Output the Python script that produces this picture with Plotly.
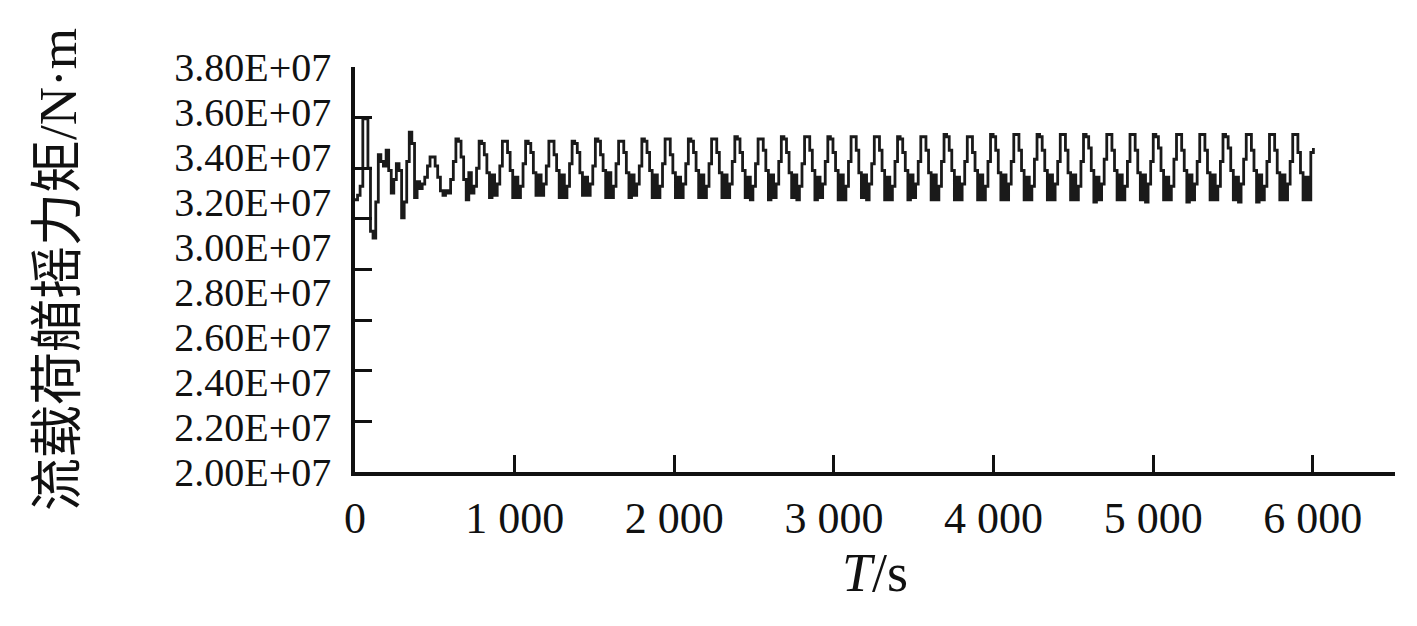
import plotly.graph_objects as go

# ---------------- data (torque in units of 1E+07 N·m) ----------------
TRANS_T = [0, 16, 32, 49, 65, 81, 97, 113, 130, 146, 162, 178, 195, 211, 227, 243,
           259, 276, 292, 308, 324, 340, 356, 373, 389, 405, 421, 437, 454, 470,
           486, 502, 518, 535, 551, 567, 583, 599, 616]
TRANS_V = [3.21, 3.23, 3.27, 3.57, 3.57, 3.35, 3.07, 3.04, 3.20, 3.41, 3.38, 3.36,
           3.43, 3.34, 3.24, 3.30, 3.37, 3.34, 3.13, 3.20, 3.38, 3.51, 3.46, 3.22,
           3.29, 3.26, 3.28, 3.31, 3.36, 3.40, 3.40, 3.36, 3.31, 3.25, 3.23, 3.25,
           3.24, 3.30, 3.38]

CYCLE_START = 632.0   # s, first regular peak
CYCLE_DT = 16.18      # s, sample step inside the periodic part
CYCLES = [
    [3.48, 3.47, 3.40, 3.30, 3.21, 3.33, 3.24, 3.27, 3.35],
    [3.47, 3.46, 3.41, 3.33, 3.22, 3.32, 3.23, 3.28, 3.36],
    [3.47, 3.47, 3.42, 3.34, 3.22, 3.31, 3.22, 3.27, 3.37],
    [3.47, 3.46, 3.42, 3.33, 3.23, 3.32, 3.23, 3.28, 3.36],
    [3.47, 3.47, 3.41, 3.34, 3.22, 3.32, 3.22, 3.27, 3.37],
    [3.47, 3.46, 3.42, 3.33, 3.23, 3.31, 3.23, 3.28, 3.36],
    [3.48, 3.47, 3.41, 3.34, 3.22, 3.33, 3.22, 3.27, 3.37],
    [3.47, 3.47, 3.42, 3.33, 3.22, 3.32, 3.23, 3.28, 3.36],
    [3.48, 3.47, 3.42, 3.34, 3.22, 3.32, 3.22, 3.27, 3.37],
    [3.48, 3.48, 3.41, 3.33, 3.22, 3.31, 3.22, 3.28, 3.37],
    [3.48, 3.47, 3.42, 3.34, 3.22, 3.32, 3.22, 3.27, 3.37],
    [3.48, 3.48, 3.42, 3.33, 3.22, 3.32, 3.22, 3.28, 3.38],
    [3.49, 3.48, 3.42, 3.34, 3.22, 3.31, 3.21, 3.27, 3.37],
    [3.48, 3.48, 3.43, 3.34, 3.21, 3.32, 3.22, 3.28, 3.38],
    [3.49, 3.48, 3.42, 3.33, 3.22, 3.32, 3.21, 3.27, 3.37],
    [3.49, 3.49, 3.43, 3.34, 3.21, 3.31, 3.22, 3.28, 3.38],
    [3.49, 3.48, 3.42, 3.34, 3.21, 3.32, 3.21, 3.27, 3.38],
    [3.49, 3.49, 3.43, 3.33, 3.22, 3.32, 3.21, 3.28, 3.37],
    [3.49, 3.49, 3.43, 3.34, 3.21, 3.31, 3.21, 3.27, 3.38],
    [3.49, 3.48, 3.42, 3.34, 3.21, 3.32, 3.22, 3.28, 3.38],
    [3.49, 3.49, 3.43, 3.33, 3.21, 3.32, 3.21, 3.27, 3.38],
    [3.50, 3.49, 3.43, 3.34, 3.21, 3.31, 3.21, 3.28, 3.38],
    [3.49, 3.49, 3.42, 3.34, 3.21, 3.32, 3.21, 3.27, 3.38],
    [3.50, 3.49, 3.43, 3.33, 3.21, 3.32, 3.21, 3.28, 3.38],
    [3.50, 3.50, 3.43, 3.34, 3.21, 3.31, 3.21, 3.27, 3.39],
    [3.50, 3.49, 3.43, 3.34, 3.21, 3.32, 3.21, 3.28, 3.38],
    [3.50, 3.50, 3.43, 3.33, 3.21, 3.32, 3.21, 3.27, 3.38],
    [3.50, 3.49, 3.44, 3.34, 3.20, 3.31, 3.21, 3.28, 3.39],
    [3.50, 3.50, 3.43, 3.34, 3.21, 3.32, 3.21, 3.27, 3.38],
    [3.50, 3.50, 3.43, 3.33, 3.21, 3.32, 3.20, 3.28, 3.38],
    [3.50, 3.49, 3.44, 3.34, 3.21, 3.31, 3.21, 3.27, 3.39],
    [3.50, 3.50, 3.43, 3.34, 3.20, 3.32, 3.21, 3.28, 3.38],
    [3.50, 3.50, 3.43, 3.33, 3.21, 3.32, 3.21, 3.27, 3.38],
    [3.50, 3.49, 3.44, 3.34, 3.21, 3.31, 3.20, 3.28, 3.39],
    [3.50, 3.50, 3.43, 3.34, 3.20, 3.32, 3.21, 3.27, 3.38],
    [3.50, 3.50, 3.43, 3.33, 3.21, 3.32, 3.21, 3.28, 3.38],
    [3.50, 3.50, 3.42, 3.33, 3.21, 3.31, 3.21, 3.42, 3.44],
]
UNIT = 1e7

Y_TICK_VALUES = [2.0, 2.2, 2.4, 2.6, 2.8, 3.0, 3.2, 3.4, 3.6, 3.8]
Y_TICK_TEXT = ["2.00E+07", "2.20E+07", "2.40E+07", "2.60E+07", "2.80E+07",
               "3.00E+07", "3.20E+07", "3.40E+07", "3.60E+07", "3.80E+07"]
X_TICK_VALUES = [0, 1000, 2000, 3000, 4000, 5000, 6000]
X_TICK_TEXT = ["0", "1 000", "2 000", "3 000", "4 000", "5 000", "6 000"]
Y_MARK_POS = [0, 1, 2, 3, 4, 5, 6, 7, 8]   # tick marks drawn on the y axis line (9 marks)

X_TITLE = "<i>T</i>/s"
Y_TITLE = "流载荷艏摇力矩/N·m"

# ---------------- build series ----------------
t = list(TRANS_T)
v = list(TRANS_V)
n = 0
for row in CYCLES:
    for val in row:
        t.append(CYCLE_START + n * CYCLE_DT)
        v.append(val)
        n += 1
y = [val * UNIT for val in v]

SERIF = "Liberation Serif, Times New Roman, serif"
CJK = "Liberation Serif, Noto Sans CJK SC, serif"
INK = "#111111"

fig = go.Figure()
fig.add_trace(go.Scatter(x=t, y=y, mode="lines",
                         line=dict(color="#1a1a1a", width=2.8, shape="hv"),
                         showlegend=False, hoverinfo="skip"))
# carrier for the tick-mark axis (no visible points)
fig.add_trace(go.Scatter(x=[None], y=[None], yaxis="y2", mode="lines",
                         showlegend=False, hoverinfo="skip"))

fig.update_layout(
    width=1417, height=626,
    margin=dict(l=347, r=30, t=59, b=162),
    paper_bgcolor="white", plot_bgcolor="white",
    showlegend=False,
    xaxis=dict(
        range=[0, 6515], tickvals=X_TICK_VALUES, ticktext=X_TICK_TEXT,
        ticks="inside", ticklen=17, tickwidth=2.5, tickcolor=INK,
        showline=True, linewidth=3.5, linecolor=INK, showgrid=False, zeroline=False,
        tickfont=dict(family=SERIF, size=44, color=INK),
        ticklabelstandoff=4,
        title=dict(text=X_TITLE, font=dict(family=SERIF, size=54, color=INK), standoff=12),
        automargin=False,
    ),
    yaxis=dict(
        range=[2.0 * UNIT, 3.8 * UNIT], tickvals=[val * UNIT for val in Y_TICK_VALUES],
        ticktext=Y_TICK_TEXT, ticks="",
        showline=True, linewidth=3.5, linecolor=INK, showgrid=False, zeroline=False,
        tickfont=dict(family=SERIF, size=40, color=INK),
        ticklabelstandoff=12,
        title=dict(text=Y_TITLE, font=dict(family=CJK, size=53, color=INK), standoff=82),
        automargin=False,
    ),
    yaxis2=dict(
        overlaying="y", side="left", anchor="x", range=[0, 8], tickvals=Y_MARK_POS,
        showticklabels=False, ticks="inside", ticklen=17, tickwidth=2.5, tickcolor=INK,
        showline=False, showgrid=False, zeroline=False,
    ),
)

fig.write_html("out.html")
